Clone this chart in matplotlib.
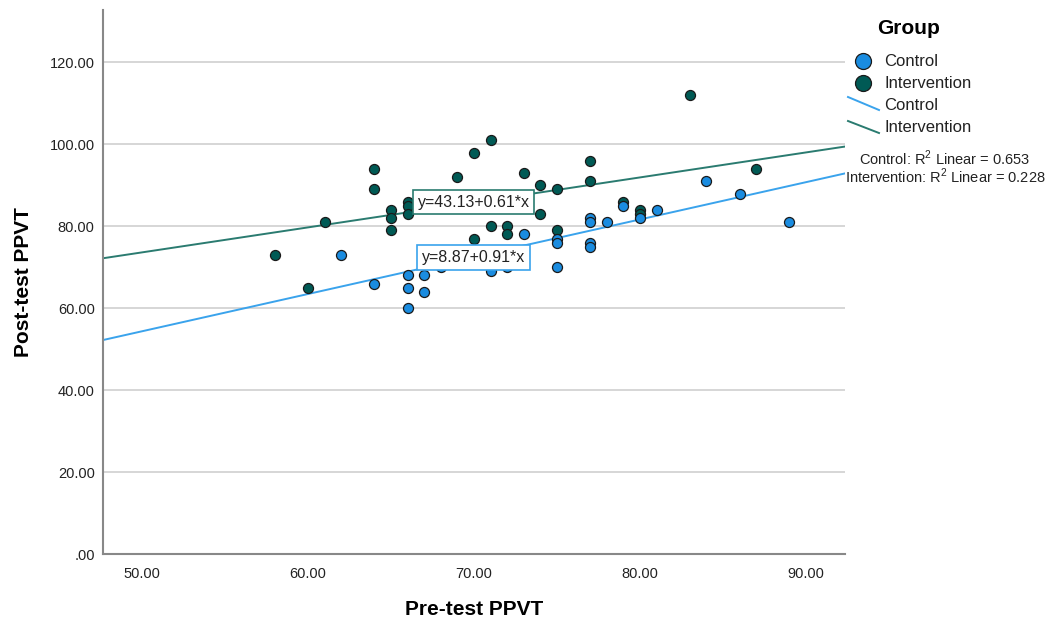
import numpy as np
import matplotlib
matplotlib.use('Agg')
import matplotlib.pyplot as plt
from matplotlib.lines import Line2D

plt.rcParams['font.family'] = ['Liberation Sans', 'DejaVu Sans']
plt.rcParams['mathtext.fontset'] = 'custom'
plt.rcParams['mathtext.rm'] = 'Liberation Sans'

# pre-test / post-test PPVT scores
control_pre = [62, 64, 66, 66, 66, 67, 67, 68, 71, 72, 73, 75, 75, 75,
               77, 77, 77, 77, 78, 79, 80, 81, 84, 86, 89]
control_post = [73, 66, 68, 65, 60, 68, 64, 70, 69, 70, 78, 77, 76, 70,
                82, 81, 76, 75, 81, 85, 82, 84, 91, 88, 81]

interv_pre = [58, 60, 61, 64, 64, 65, 65, 65, 66, 66, 66, 69, 70, 70, 71,
              71, 72, 72, 73, 74, 74, 75, 75, 77, 77, 79, 80, 80, 83, 87]
interv_post = [73, 65, 81, 94, 89, 84, 82, 79, 86, 85, 83, 92, 98, 77, 101,
               80, 80, 78, 93, 90, 83, 89, 79, 96, 91, 86, 84, 83, 112, 94]

# fitted lines (intercept, slope) and R2
control_fit = (8.87, 0.91)
interv_fit = (43.13, 0.61)
control_r2 = 0.653
interv_r2 = 0.228

c_ctrl = '#1a8ce0'
c_int = '#005a55'
c_ctrl_line = '#3aa3ec'
c_int_line = '#2a7b70'

xlim = (47.65, 92.35)
ylim = (0, 132.8)

fig = plt.figure(figsize=(10.53, 6.34), dpi=100)
ax = fig.add_axes([103/1053, 1 - 554/634, 742/1053, 544/634])

for y in [20, 40, 60, 80, 100, 120]:
    ax.axhline(y, color='#d0d0d0', lw=1.2, zorder=0)

xx = np.array(xlim)
ax.plot(xx, interv_fit[0] + interv_fit[1] * xx, color=c_int_line, lw=1.4, zorder=2)
ax.plot(xx, control_fit[0] + control_fit[1] * xx, color=c_ctrl_line, lw=1.4, zorder=2)

ax.scatter(interv_pre, interv_post, s=52, color=c_int, edgecolor='#1a1a1a', lw=0.9, zorder=3)
ax.scatter(control_pre, control_post, s=52, color=c_ctrl, edgecolor='#1a1a1a', lw=0.9, zorder=3)

ax.text(66.6, 85.9, 'y=%.2f+%.2f*x' % interv_fit, fontsize=11.5, color='#222222',
        va='center', ha='left', zorder=5,
        bbox=dict(boxstyle='square,pad=0.3', fc='white', ec=c_int_line, lw=1.2))
ax.text(66.85, 72.4, 'y=%.2f+%.2f*x' % control_fit, fontsize=11.5, color='#222222',
        va='center', ha='left', zorder=5,
        bbox=dict(boxstyle='square,pad=0.3', fc='white', ec=c_ctrl_line, lw=1.2))

ax.set_xlim(*xlim)
ax.set_ylim(*ylim)
ax.set_xticks([50, 60, 70, 80, 90])
ax.set_yticks([0, 20, 40, 60, 80, 100, 120])
ax.set_xticklabels(['50.00', '60.00', '70.00', '80.00', '90.00'])
ax.set_yticklabels(['.00', '20.00', '40.00', '60.00', '80.00', '100.00', '120.00'])
ax.tick_params(length=0, labelsize=10.5, labelcolor='#222222')
ax.tick_params(axis='x', pad=9)
ax.tick_params(axis='y', pad=6)
for s in ['top', 'right']:
    ax.spines[s].set_visible(False)
for s in ['left', 'bottom']:
    ax.spines[s].set_color('#888888')
    ax.spines[s].set_linewidth(1.5)

ax.set_xlabel('Pre-test PPVT', fontsize=15, fontweight='bold', labelpad=14)
ax.set_ylabel('Post-test PPVT', fontsize=15, fontweight='bold', labelpad=12)

# legend drawn in figure pixels
def px(x, y):
    return x / 1053, 1 - y / 634

fig.text(*px(909, 29), 'Group', fontsize=15, fontweight='bold', ha='center', va='center')
fig.add_artist(Line2D([px(863, 61)[0]], [px(863, 61)[1]], marker='o', ms=11.5,
                      mfc=c_ctrl, mec='#1a1a1a', mew=0.9, transform=fig.transFigure))
fig.add_artist(Line2D([px(863, 83)[0]], [px(863, 83)[1]], marker='o', ms=11.5,
                      mfc=c_int, mec='#1a1a1a', mew=0.9, transform=fig.transFigure))
fig.text(*px(884, 61), 'Control', fontsize=12, va='center', color='#222222')
fig.text(*px(884, 83), 'Intervention', fontsize=12, va='center', color='#222222')
a, b = px(848, 97), px(879, 110)
fig.add_artist(Line2D([a[0], b[0]], [a[1], b[1]], color=c_ctrl_line, lw=1.4,
                      transform=fig.transFigure))
a, b = px(848, 121), px(879, 133)
fig.add_artist(Line2D([a[0], b[0]], [a[1], b[1]], color=c_int_line, lw=1.4,
                      transform=fig.transFigure))
fig.text(*px(884, 106), 'Control', fontsize=12, va='center', color='#222222')
fig.text(*px(884, 128), 'Intervention', fontsize=12, va='center', color='#222222')
fig.text(*px(945, 158), r'Control: R$^{2}$ Linear = %.3f' % control_r2,
         fontsize=10.5, ha='center', va='center', color='#222222')
fig.text(*px(945, 176), r'Intervention: R$^{2}$ Linear = %.3f' % interv_r2,
         fontsize=10.5, ha='center', va='center', color='#222222')

fig.savefig('out.png', dpi=100)
